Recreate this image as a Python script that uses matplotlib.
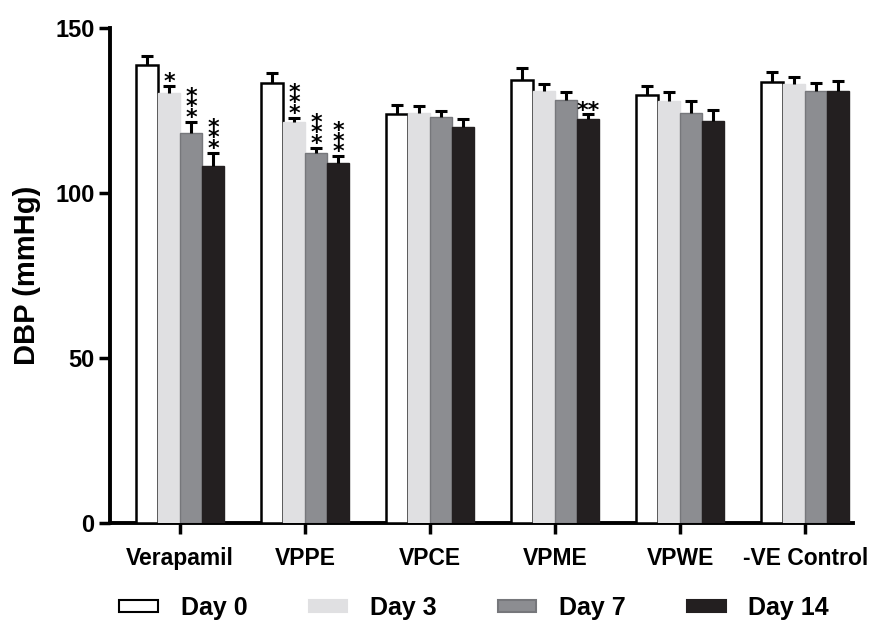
import numpy as np
import matplotlib.pyplot as plt
from matplotlib.patches import Patch

plt.rcParams['font.family'] = ['Liberation Sans', 'DejaVu Sans']
plt.rcParams['font.weight'] = 'bold'

# groups and days
groups = ["Verapamil", "VPPE", "VPCE", "VPME", "VPWE", "-VE Control"]
days = ["Day 0", "Day 3", "Day 7", "Day 14"]

# mean DBP (mmHg), one list per day
day0 = [138.9, 133.2, 123.9, 134.3, 129.6, 133.7]
day3 = [130.4, 121.6, 124.1, 130.9, 127.9, 133.1]
day7 = [118.1, 112.0, 123.0, 128.1, 124.1, 131.0]
day14 = [108.3, 109.0, 120.0, 122.3, 121.7, 131.0]

# SEM (upper error only)
sem0 = [2.7, 3.3, 2.8, 3.5, 2.9, 3.1]
sem3 = [2.0, 1.2, 2.4, 2.0, 2.7, 2.2]
sem7 = [3.5, 1.7, 1.9, 2.5, 3.8, 2.4]
sem14 = [3.9, 2.2, 2.3, 1.6, 3.5, 2.9]

# significance marks ("\n" = stars stacked vertically)
sig0 = ["", "", "", "", "", ""]
sig3 = ["*", "*\n*\n*", "", "", "", ""]
sig7 = ["*\n*\n*", "*\n*\n*", "", "", "", ""]
sig14 = ["*\n*\n*", "*\n*\n*", "", "**", "", ""]

means = [day0, day3, day7, day14]
sems = [sem0, sem3, sem7, sem14]
sigs = [sig0, sig3, sig7, sig14]
colors = ["white", "#e0e0e2", "#8c8d91", "#231f20"]
edges = ["black", "#e0e0e2", "#76777b", "#231f20"]

fig = plt.figure(figsize=(8.7, 6.22), dpi=100)
ax = fig.add_axes([0.1264, 0.159, 0.854, 0.796])

x = np.arange(len(groups))
w = 0.176
for i in range(4):
    xs = x + (i - 1.5) * w
    ax.bar(xs, means[i], width=w, color=colors[i], edgecolor=edges[i],
           linewidth=1.8 if i == 0 else 1.0, zorder=3)
    tops = np.array(means[i]) + np.array(sems[i])
    ax.vlines(xs, means[i], tops, color="black", linewidth=2.2, zorder=4)
    ax.hlines(tops, xs - w * 0.27, xs + w * 0.27, color="black", linewidth=2.2, zorder=4)
    for xx, t, s in zip(xs, tops, sigs[i]):
        if s:
            ax.annotate(s, (xx, t), xytext=(0, -4.6), textcoords="offset points",
                        ha="center", va="bottom", fontsize=16, fontweight="bold",
                        family="DejaVu Sans", linespacing=0.42, zorder=5)

ax.set_xlim(-0.56, 5.38)
ax.set_ylim(0, 150)
ax.set_yticks([0, 50, 100, 150])
ax.set_xticks(x)
ax.set_xticklabels(groups)
ax.tick_params(axis="both", direction="out", length=8, width=2.5)
ax.tick_params(axis="y", labelsize=17, pad=3)
ax.tick_params(axis="x", labelsize=16.5, pad=9)
for lab in ax.get_xticklabels() + ax.get_yticklabels():
    lab.set_fontweight("bold")
ax.spines["top"].set_visible(False)
ax.spines["right"].set_visible(False)
ax.spines["left"].set_linewidth(2.8)
ax.spines["bottom"].set_linewidth(2.8)
ax.set_ylabel("DBP (mmHg)", fontsize=21, fontweight="bold", labelpad=10)

handles = [Patch(facecolor=colors[i], edgecolor=edges[i] if i != 1 else colors[i],
                 linewidth=1.5, label=days[i]) for i in range(4)]
fig.legend(handles=handles, loc="center", bbox_to_anchor=(0.545, 0.0225), ncol=4,
           frameon=False, handlelength=1.55, handleheight=0.4, handletextpad=0.9,
           columnspacing=2.45, prop={"weight": "bold", "size": 18})

fig.savefig("out.png", dpi=100)
